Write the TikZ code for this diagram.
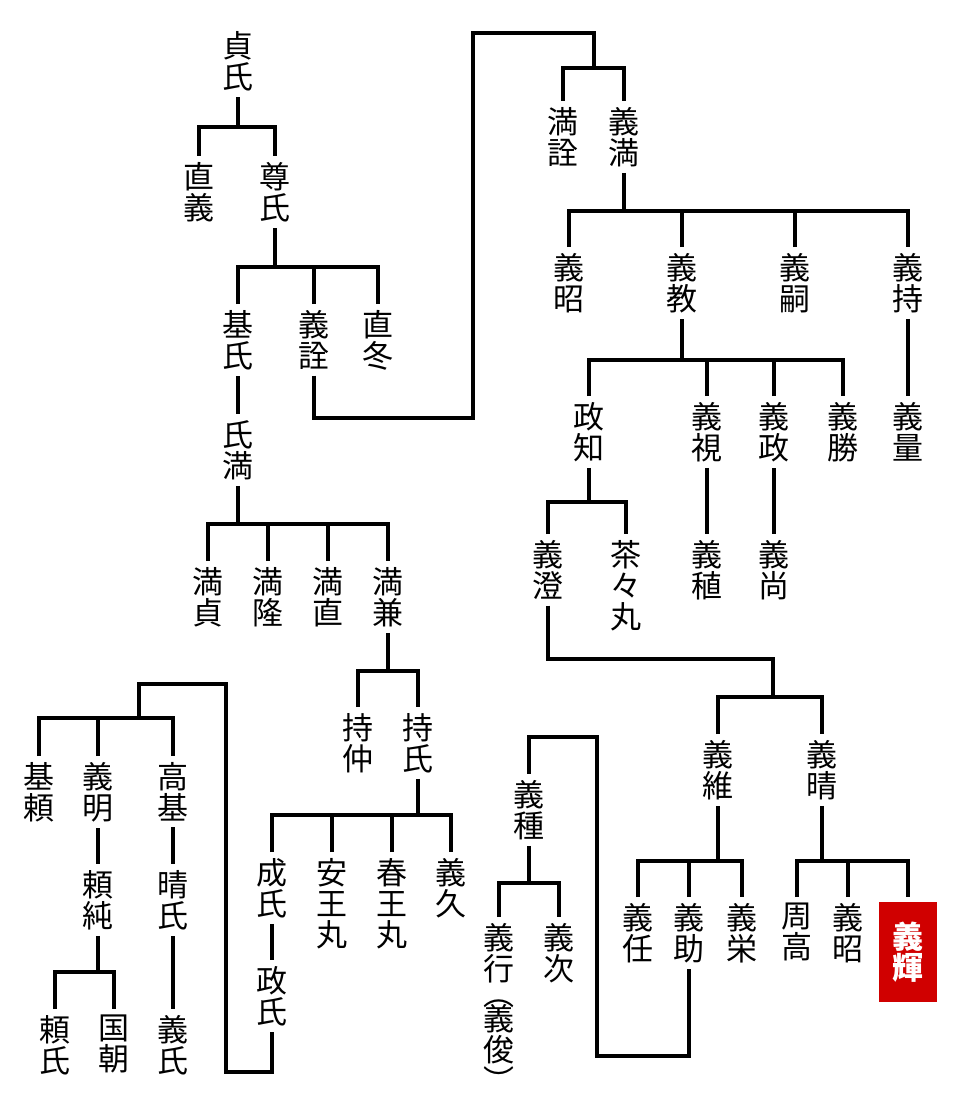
\documentclass[tikz,border=0pt]{standalone}
\usepackage{fontspec}
\setmainfont{Noto Sans CJK JP}
\usetikzlibrary{positioning}
\definecolor{herored}{RGB}{208,0,0}
\newcommand\namefont{\fontsize{31pt}{31pt}\selectfont}

\begin{document}
\begin{tikzpicture}[x=1pt, y=-1pt, every node/.style={font=\namefont}, person/.style={align=center, anchor=north, inner xsep=0pt, inner ysep=6pt}, lord/.style={person, fill=herored, text=white, font=\namefont\bfseries, inner xsep=13.5pt, inner ysep=20pt, outer ysep=5pt}, link/.style={line width=3.8pt}]
\fill[white] (0,0) rectangle (960,1110);
% 鎌倉公方
\node[person] (sadauji) at (238,25) {貞\\氏};
\node[person] (tadayoshi) at (199,156) {直\\義};
\node[person] (takauji) at (275,156) {尊\\氏};
\node[person] (motouji) at (238,304) {基\\氏};
\node[person] (yoshiakira) at (314,304) {義\\詮};
\node[person] (tadafuyu) at (378,304) {直\\冬};
\node[person] (ujimitsu) at (238,414) {氏\\満};
\node[person] (mitsusada) at (208,561) {満\\貞};
\node[person] (mitsutaka) at (268,561) {満\\隆};
\node[person] (mitsutada) at (328,561) {満\\直};
\node[person] (mitsukane) at (388,561) {満\\兼};
\node[person] (mochinaka) at (358,707) {持\\仲};
\node[person] (mochiuji) at (418,707) {持\\氏};
\node[person] (shigeuji) at (272,852) {成\\氏};
\node[person] (yasuomaru) at (332,852) {安\\王\\丸};
\node[person] (haruomaru) at (392,852) {春\\王\\丸};
\node[person] (yoshihisaK) at (451,852) {義\\久};
\node[person] (masauji) at (272,960) {政\\氏};
\node[person] (motoyori) at (39,756) {基\\頼};
\node[person] (yoshiakiO) at (98,756) {義\\明};
\node[person] (takamoto) at (173,756) {高\\基};
\node[person] (yorizumi) at (98,864) {頼\\純};
\node[person] (haruuji) at (173,864) {晴\\氏};
\node[person] (yoriuji) at (55,1009) {頼\\氏};
\node[person] (kunitomo) at (114,1009) {国\\朝};
\node[person] (yoshiuji) at (173,1009) {義\\氏};
% 将軍家
\node[person] (mitsuakira) at (563,101) {満\\詮};
\node[person] (yoshimitsu) at (624,101) {義\\満};
\node[person] (gien) at (569,247) {義\\昭};
\node[person] (yoshinori) at (682,247) {義\\教};
\node[person] (yoshitsugu) at (795,247) {義\\嗣};
\node[person] (yoshimochi) at (908,247) {義\\持};
\node[person] (masatomo) at (589,396) {政\\知};
\node[person] (yoshimi) at (707,396) {義\\視};
\node[person] (yoshimasa) at (774,396) {義\\政};
\node[person] (yoshikatsu) at (843,396) {義\\勝};
\node[person] (yoshikazu) at (908,396) {義\\量};
\node[person] (yoshizumi) at (548,534) {義\\澄};
\node[person] (chachamaru) at (626,534) {茶\\々\\丸};
\node[person] (yoshitane) at (707,534) {義\\稙};
\node[person] (yoshihisa) at (774,534) {義\\尚};
\node[person] (yoshitsuna) at (718,734) {義\\維};
\node[person] (yoshiharu) at (822,734) {義\\晴};
\node[person] (yoshito) at (638,897) {義\\任};
\node[person] (yoshisuke) at (689,897) {義\\助};
\node[person] (yoshihide) at (742,897) {義\\栄};
\node[person] (shuko) at (797,897) {周\\高};
\node[person] (yoshiaki) at (848,897) {義\\昭};
\node[lord] (yoshiteru) at (908,897) {義\\輝};
\node[person] (yoshitaneH) at (529,774) {義\\種};
\node[person] (yoshiyuki) at (499,917) {義\\行\\[-6pt]︵\\[-6pt]義\\俊\\︶};
\node[person] (yoshitsuguH) at (559,917) {義\\次};
% bars
\coordinate (b1) at (238,127);
\coordinate (b2) at (275,267);
\coordinate (b3) at (594,68);
\coordinate (b4) at (624,211);
\coordinate (b5) at (682,360);
\coordinate (b6) at (589,502);
\coordinate (b7) at (773,697);
\coordinate (b8) at (718,861);
\coordinate (b9) at (822,861);
\coordinate (b10) at (529,883);
\coordinate (b11) at (238,524);
\coordinate (b12) at (388,671);
\coordinate (b13) at (418,815);
\coordinate (b14) at (139,718);
\coordinate (b15) at (98,972);
% left tree
\draw[link] (sadauji) -- (b1);
\draw[link] (tadayoshi) |- (b1) -| (takauji);
\draw[link] (takauji) -- (b2);
\draw[link] (motouji) |- (b2) -| (tadafuyu);
\draw[link] (yoshiakira) -- (yoshiakira |- b2);
\draw[link] (motouji) -- (ujimitsu);
\draw[link] (ujimitsu) -- (b11);
\draw[link] (mitsusada) |- (b11) -| (mitsukane);
\draw[link] (mitsutaka) -- (mitsutaka |- b11);
\draw[link] (mitsutada) -- (mitsutada |- b11);
\draw[link] (mitsukane) -- (b12);
\draw[link] (mochinaka) |- (b12) -| (mochiuji);
\draw[link] (mochiuji) -- (b13);
\draw[link] (shigeuji) |- (b13) -| (yoshihisaK);
\draw[link] (yasuomaru) -- (yasuomaru |- b13);
\draw[link] (haruomaru) -- (haruomaru |- b13);
\draw[link] (shigeuji) -- (masauji);
\draw[link] (masauji) |- (226,1072) -- (226,684) -| (b14);
\draw[link] (motoyori) |- (b14) -| (takamoto);
\draw[link] (yoshiakiO) -- (yoshiakiO |- b14);
\draw[link] (yoshiakiO) -- (yorizumi);
\draw[link] (takamoto) -- (haruuji);
\draw[link] (haruuji) -- (yoshiuji);
\draw[link] (yorizumi) -- (b15);
\draw[link] (yoriuji) |- (b15) -| (kunitomo);
% right tree
\draw[link] (yoshiakira) |- (473,418) -- (473,33) -| (b3);
\draw[link] (mitsuakira) |- (b3) -| (yoshimitsu);
\draw[link] (yoshimitsu) -- (b4);
\draw[link] (gien) |- (b4) -| (yoshimochi);
\draw[link] (yoshinori) -- (yoshinori |- b4);
\draw[link] (yoshitsugu) -- (yoshitsugu |- b4);
\draw[link] (yoshimochi) -- (yoshikazu);
\draw[link] (yoshinori) -- (b5);
\draw[link] (masatomo) |- (b5) -| (yoshikatsu);
\draw[link] (yoshimi) -- (yoshimi |- b5);
\draw[link] (yoshimasa) -- (yoshimasa |- b5);
\draw[link] (yoshimi) -- (yoshitane);
\draw[link] (yoshimasa) -- (yoshihisa);
\draw[link] (masatomo) -- (b6);
\draw[link] (yoshizumi) |- (b6) -| (chachamaru);
\draw[link] (yoshizumi) |- (773,659) -- (b7);
\draw[link] (yoshitsuna) |- (b7) -| (yoshiharu);
\draw[link] (yoshitsuna) -- (b8);
\draw[link] (yoshito) |- (b8) -| (yoshihide);
\draw[link] (yoshisuke) -- (yoshisuke |- b8);
\draw[link] (yoshiharu) -- (b9);
\draw[link] (shuko) |- (b9) -| (yoshiteru);
\draw[link] (yoshiaki) -- (yoshiaki |- b9);
\draw[link] (yoshisuke) |- (597,1056) -- (597,737) -| (yoshitaneH);
\draw[link] (yoshitaneH) -- (b10);
\draw[link] (yoshiyuki) |- (b10) -| (yoshitsuguH);
\end{tikzpicture}
\end{document}
